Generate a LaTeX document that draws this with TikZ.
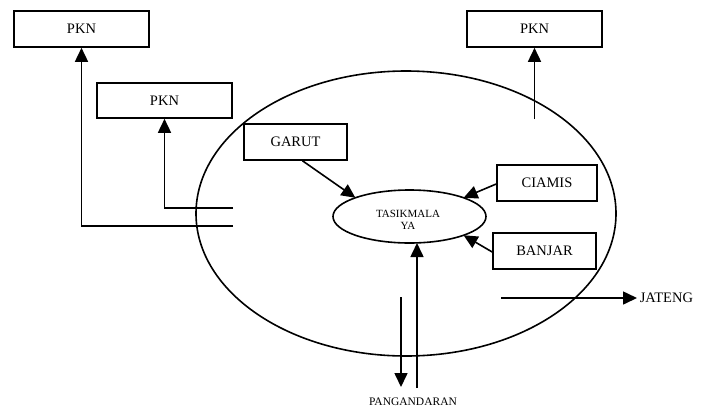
\documentclass[tikz,border=0pt]{standalone}
\usepackage{fontspec}
\setmainfont{Liberation Serif}
\usetikzlibrary{shapes.geometric,arrows.meta}
\begin{document}
\begin{tikzpicture}[x=1pt,y=-1pt,
  line width=1.6pt,
  boxnode/.style={draw, rectangle, inner sep=0pt, minimum height=36pt,
    font=\fontsize{14.5}{16}\selectfont},
  arr/.style={-{Triangle[width=13pt,length=14pt]}},
  smalltext/.style={font=\fontsize{11.5}{12}\selectfont, inner sep=0pt, anchor=base}]
\useasboundingbox (0,0) rectangle (701,408);
% region ellipse
\node[draw, ellipse, inner sep=0pt, minimum width=420pt, minimum height=285pt] (region) at (406,213.5) {};
% boxes
\node[boxnode, minimum width=135pt] (pkn1) at (81.5,29) {PKN};
\node[boxnode, minimum width=135pt, minimum height=35pt] (pkn2) at (164.5,100.5) {PKN};
\node[boxnode, minimum width=135pt] (pkn3) at (534.5,29) {PKN};
\node[boxnode, minimum width=103pt] (garut) at (295.5,142) {GARUT};
\node[boxnode, minimum width=100pt] (ciamis) at (547,183) {CIAMIS};
\node[boxnode, minimum width=103pt] (banjar) at (544.5,251) {BANJAR};
% central ellipse
\node[draw, ellipse, inner sep=0pt, outer sep=0pt, minimum width=153pt, minimum height=53pt] (tas) at (409.5,216.5) {};
\node[smalltext, font=\fontsize{11}{12}\selectfont] (tas1) at (408,217) {TASIKMALA};
\node[smalltext, font=\fontsize{11}{12}\selectfont] (tas2) at (408,229.5) {YA};
% labels
\node[smalltext] (pang) at (413,405.5) {PANGANDARAN};
\node[anchor=west, inner xsep=2pt, inner ysep=0pt, font=\fontsize{14.5}{16}\selectfont] (jat) at (637,298) {JATENG};
% free ends
\coordinate (c1) at (233,226);
\coordinate (c2) at (233,208);
\coordinate (c3) at (534.5,119);
\coordinate (up0) at (417,388);
\coordinate (dn0) at (401,297);
\coordinate (dn1) at (401,387);
\coordinate (jt0) at (501,298);
% connectors
\draw[arr] (c1) -| (pkn1.south);
\draw[arr] (c2) -| (pkn2.south);
\draw[arr] (c3) -- (pkn3.south);
\draw[arr] ([xshift=7pt]garut.south) -- (tas.north west);
\draw[arr] ([yshift=-1pt]ciamis.west) -- (tas.north east);
\draw[arr] ([yshift=-1pt]banjar.west) -- (tas.south east);
\draw[arr] (up0) -- (up0 |- tas.south);
\draw[arr] (dn0) -- (dn1);
\draw[arr] (jt0) -- (jat.west);
\end{tikzpicture}
\end{document}
